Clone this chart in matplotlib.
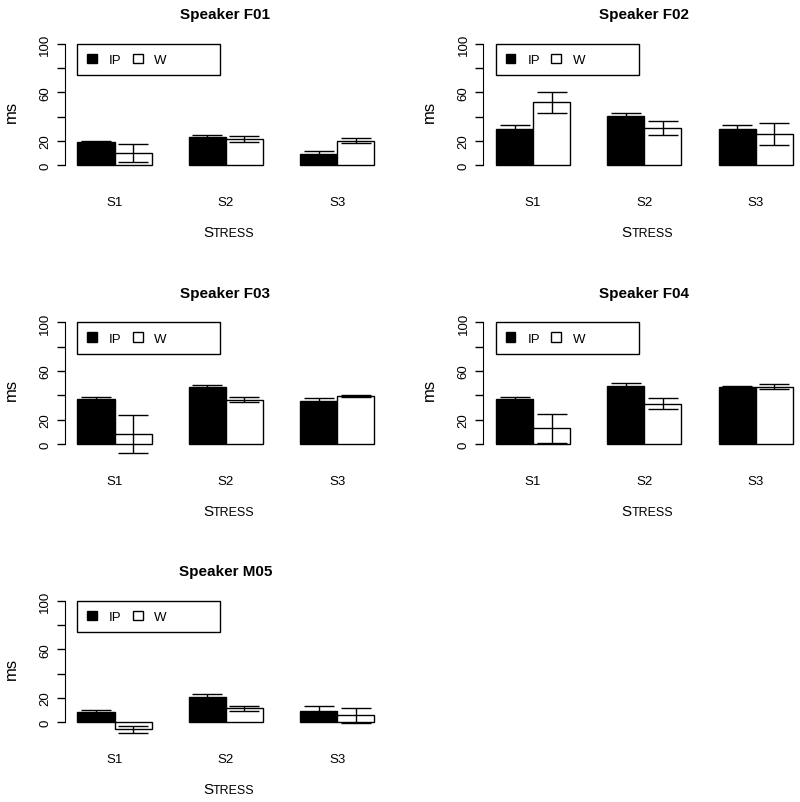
import numpy as np
import matplotlib
matplotlib.use("Agg")
import matplotlib.pyplot as plt
from matplotlib.patches import Patch, Rectangle

plt.rcParams['font.family'] = ['Liberation Sans', 'DejaVu Sans']

# values (ms)
speakers = ["F01", "F02", "F03", "F04", "M05"]
stress = ["S1", "S2", "S3"]
ip_mean = [[18.9, 23.3, 9.0],
           [29.9, 40.3, 29.9],
           [36.7, 46.6, 35.6],
           [37.3, 47.9, 46.8],
           [8.5, 21.2, 9.6]]
ip_se = [[0.8, 1.7, 2.5],
         [3.0, 3.0, 3.5],
         [1.6, 1.9, 1.9],
         [1.3, 2.5, 0.6],
         [1.4, 1.9, 3.6]]
w_mean = [[10.0, 21.5, 20.2],
          [52.0, 30.6, 25.9],
          [8.2, 36.5, 39.5],
          [12.8, 33.2, 47.1],
          [-5.8, 11.4, 5.7]]
w_se = [[7.4, 2.3, 2.0],
        [8.6, 5.7, 9.2],
        [15.3, 2.1, 1.1],
        [11.7, 4.3, 2.2],
        [3.0, 1.8, 6.0]]

W, H = 800, 803
fig = plt.figure(figsize=(W / 100, H / 100), dpi=100)

# pixel layout of the panels: (spine x, y of value 0)
xunit = 37.1     # px per bar
yunit = 1.216    # px per ms
xlim = (0.65, 9.32)
ylim = (-14.4, 104.4)
col_x = [64.5, 483.0]
row_y0 = [166.3, 445.0, 723.3]

group = np.arange(3) * 3
for i, spk in enumerate(speakers):
    r, c = divmod(i, 2)
    left = col_x[c]
    width = (xlim[1] - xlim[0]) * xunit
    bottom_px = row_y0[r] - ylim[0] * yunit
    height = (ylim[1] - ylim[0]) * yunit
    ax = fig.add_axes([left / W, 1 - bottom_px / H, width / W, height / H])

    xi = group + 1.5
    xw = group + 2.5
    ax.bar(xi, ip_mean[i], width=1, color="black", edgecolor="black", linewidth=1)
    ax.bar(xw, w_mean[i], width=1, color="white", edgecolor="black", linewidth=1)
    ax.errorbar(xi, ip_mean[i], yerr=ip_se[i], fmt="none", ecolor="black",
                elinewidth=1, capsize=10.5, capthick=1, zorder=3)
    ax.errorbar(xw, w_mean[i], yerr=w_se[i], fmt="none", ecolor="black",
                elinewidth=1, capsize=10.5, capthick=1, zorder=3)

    ax.set_xlim(xlim)
    ax.set_ylim(ylim)
    for s in ["top", "right", "bottom"]:
        ax.spines[s].set_visible(False)
    ax.spines["left"].set_bounds(0, 100)
    ax.set_yticks([0, 20, 40, 60, 80, 100])
    ax.set_yticklabels(["0", "20", "", "60", "", "100"], rotation=90, va="center")
    ax.tick_params(axis="y", length=6, width=1, pad=3.5, labelsize=9.5)
    ax.set_xticks(group + 2)
    ax.set_xticklabels(stress)
    ax.tick_params(axis="x", length=0, pad=9.5, labelsize=9.5)

    ax.set_ylabel("ms", fontsize=12)
    ax.yaxis.set_label_coords(-0.142, 0.5)
    ax.set_title("Speaker " + spk, fontsize=11, fontweight="bold", pad=14.5)

    # "Stress" in small caps
    ax.text(0.462, -0.343, "S", transform=ax.transAxes, fontsize=11,
            ha="right", va="center")
    ax.text(0.462, -0.349, "TRESS", transform=ax.transAxes, fontsize=9,
            ha="left", va="center")

    # legend box
    ax.add_patch(Rectangle((1, 74.3), 3.85, 25.7, facecolor="white",
                           edgecolor="black", linewidth=1, zorder=4))
    ax.legend(handles=[Patch(fc="black", ec="black"), Patch(fc="white", ec="black")],
              labels=["IP", "W"], ncol=2, frameon=False, loc="center left",
              bbox_to_anchor=(0.07, 0.852), borderpad=0, borderaxespad=0,
              handlelength=0.75, handleheight=0.75, handletextpad=0.9,
              columnspacing=0.85, fontsize=9.5).set_zorder(5)

fig.savefig("out.png", dpi=100)
